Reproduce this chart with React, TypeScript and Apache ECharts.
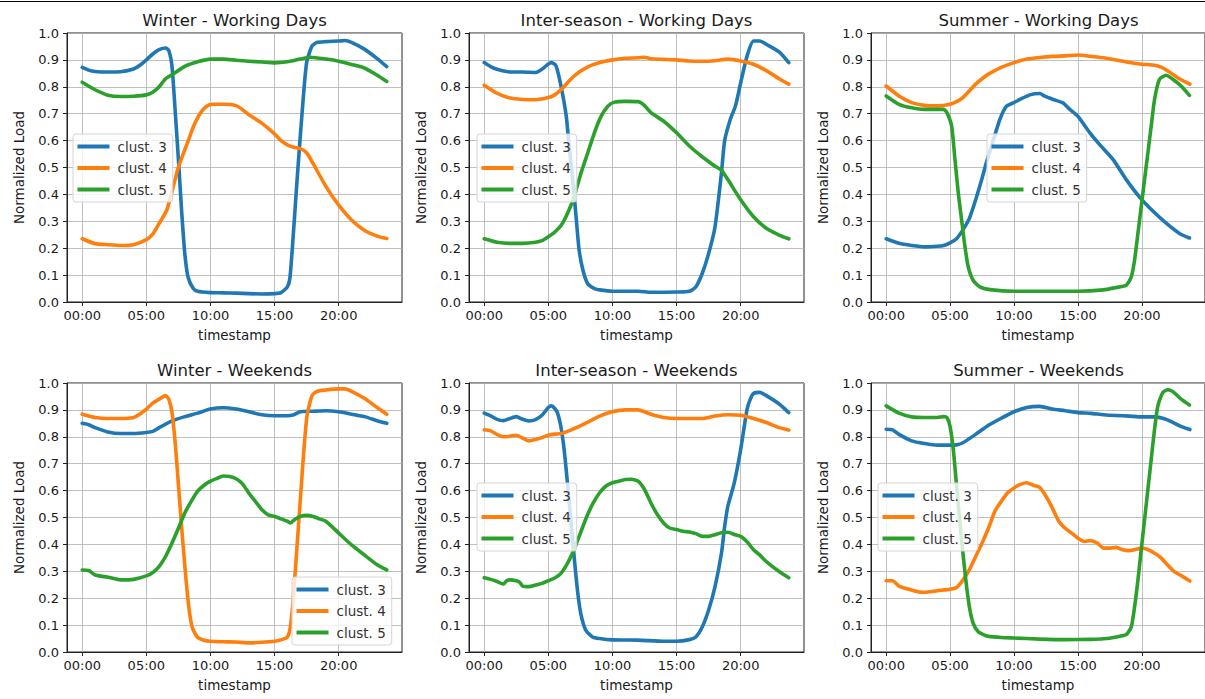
import React, { useEffect, useRef } from 'react';
import * as echarts from 'echarts';

type P = [number, number][];

// ---- Winter - Working Days ----
const winterWD_c3: P = [[0,0.872],[0.5,0.862],[1,0.857],[2,0.855],[3,0.856],[4,0.866],[4.5,0.88],[5,0.9],[5.5,0.922],[6,0.938],[6.5,0.944],[6.75,0.935],[7,0.876],[7.25,0.71],[7.5,0.53],[7.75,0.34],[8,0.18],[8.25,0.093],[8.66,0.05],[9,0.04],[10,0.035],[11,0.034],[12,0.033],[13,0.031],[14,0.03],[15,0.031],[15.5,0.035],[16,0.056],[16.2,0.09],[16.46,0.25],[16.72,0.43],[16.98,0.6],[17.24,0.76],[17.5,0.89],[17.9,0.95],[18.3,0.965],[19,0.968],[20,0.97],[20.5,0.972],[21,0.965],[22,0.94],[23,0.905],[23.75,0.875]];
const winterWD_c4: P = [[0,0.235],[1,0.217],[2,0.213],[3,0.21],[4,0.213],[5,0.232],[5.5,0.252],[6,0.292],[6.58,0.34],[7,0.41],[7.49,0.5],[8.27,0.6],[8.7,0.655],[9.18,0.7],[9.7,0.728],[10.2,0.735],[11,0.735],[12,0.73],[12.5,0.715],[13,0.696],[14,0.665],[15,0.625],[15.5,0.6],[16,0.584],[16.5,0.575],[17,0.57],[17.5,0.555],[18,0.515],[19,0.43],[20,0.36],[21,0.305],[22,0.267],[23,0.245],[23.75,0.236]];
const winterWD_c5: P = [[0,0.817],[1,0.789],[2,0.769],[3,0.764],[4,0.765],[5,0.77],[5.5,0.78],[6,0.8],[6.5,0.83],[7,0.845],[8,0.876],[9,0.893],[10,0.903],[11,0.903],[12,0.899],[13,0.895],[14,0.892],[15,0.889],[16,0.893],[17,0.903],[17.8,0.91],[19,0.903],[20,0.895],[21,0.883],[22,0.87],[23,0.843],[23.75,0.82]];

// ---- Inter-season - Working Days ----
const interWD_c3: P = [[0,0.89],[0.5,0.875],[1,0.865],[2,0.855],[3,0.855],[4,0.853],[4.5,0.865],[5,0.885],[5.25,0.89],[5.6,0.878],[6,0.8],[6.4,0.69],[6.6,0.59],[6.9,0.455],[7.16,0.318],[7.4,0.193],[7.7,0.118],[8.07,0.068],[8.6,0.05],[9,0.045],[10,0.04],[12,0.04],[13,0.036],[15,0.037],[16,0.04],[16.5,0.056],[17,0.106],[17.5,0.18],[18,0.28],[18.5,0.48],[18.75,0.6],[19.2,0.68],[19.6,0.73],[20,0.815],[20.5,0.915],[21,0.97],[21.5,0.97],[22,0.958],[23,0.93],[23.75,0.89]];
const interWD_c4: P = [[0,0.806],[1,0.776],[2,0.758],[3,0.753],[4,0.752],[5,0.76],[5.5,0.77],[6,0.79],[6.5,0.815],[7,0.84],[8,0.872],[9,0.89],[10,0.9],[11,0.906],[12,0.908],[12.5,0.91],[13,0.904],[14,0.902],[15,0.9],[16,0.896],[17,0.895],[18,0.897],[19,0.903],[20,0.896],[21,0.884],[22,0.86],[23,0.83],[23.75,0.81]];
const interWD_c5: P = [[0,0.235],[1,0.222],[2,0.218],[3,0.218],[4,0.222],[4.5,0.228],[5,0.243],[5.5,0.26],[6,0.285],[6.5,0.33],[7,0.39],[7.55,0.48],[8.07,0.554],[8.59,0.629],[9.11,0.69],[9.64,0.728],[10.16,0.743],[11,0.746],[12,0.745],[12.25,0.74],[12.5,0.73],[13,0.704],[14,0.672],[15,0.629],[16,0.58],[17,0.54],[18,0.505],[18.5,0.49],[19,0.455],[20,0.38],[21,0.317],[22,0.274],[23,0.249],[23.75,0.235]];

// ---- Summer - Working Days ----
const summerWD_c3: P = [[0,0.235],[1,0.218],[2,0.21],[3,0.205],[4,0.207],[4.5,0.21],[5,0.22],[5.5,0.235],[6,0.268],[6.5,0.31],[7,0.38],[7.5,0.46],[7.85,0.52],[8.37,0.6],[8.9,0.68],[9.41,0.728],[9.93,0.74],[10.46,0.753],[11.24,0.77],[12.02,0.775],[12.4,0.765],[13.06,0.753],[13.84,0.74],[14.36,0.716],[15,0.69],[15.92,0.63],[16.7,0.585],[17.74,0.53],[18.78,0.455],[19.82,0.39],[20.86,0.338],[21.9,0.293],[22.94,0.255],[23.72,0.238]];
const summerWD_c4: P = [[0,0.803],[1,0.766],[2,0.741],[3,0.731],[4,0.729],[5,0.735],[5.5,0.745],[6,0.76],[7,0.81],[7.5,0.83],[8,0.847],[9,0.872],[10,0.89],[11,0.903],[12,0.909],[13,0.913],[14,0.915],[15,0.918],[16,0.913],[17,0.908],[18,0.9],[19,0.89],[20,0.884],[21,0.88],[21.5,0.873],[22,0.86],[23,0.828],[23.75,0.81]];
const summerWD_c5: P = [[0,0.766],[1,0.735],[2,0.722],[3,0.716],[4,0.716],[4.5,0.716],[4.75,0.704],[5.12,0.654],[5.38,0.53],[5.64,0.405],[5.9,0.305],[6.16,0.206],[6.42,0.13],[6.81,0.08],[7.33,0.056],[8.11,0.046],[10,0.04],[12,0.04],[15,0.04],[17,0.045],[18,0.054],[18.78,0.062],[19.17,0.093],[19.43,0.156],[19.69,0.255],[19.95,0.355],[20.21,0.455],[20.47,0.554],[20.73,0.654],[20.99,0.753],[21.38,0.828],[21.9,0.843],[22.42,0.828],[23.07,0.803],[23.72,0.768]];

// ---- Winter - Weekends ----
const winterWE_c3: P = [[0,0.85],[0.5,0.845],[1,0.834],[2,0.818],[3,0.812],[4,0.812],[5,0.816],[5.5,0.82],[6,0.834],[7,0.859],[8,0.875],[9,0.888],[10,0.903],[11,0.908],[12,0.903],[13,0.893],[14,0.882],[15,0.878],[16,0.878],[16.5,0.882],[17,0.893],[18,0.895],[19,0.897],[20,0.893],[21,0.884],[22,0.875],[23,0.86],[23.75,0.85]];
const winterWE_c4: P = [[0,0.884],[1,0.872],[2,0.868],[3,0.868],[4,0.872],[4.5,0.885],[5,0.903],[5.5,0.925],[6,0.94],[6.5,0.953],[6.75,0.94],[7.01,0.888],[7.27,0.766],[7.53,0.604],[7.79,0.442],[8.05,0.293],[8.31,0.168],[8.57,0.093],[8.96,0.056],[9.48,0.044],[10,0.04],[11,0.038],[12,0.037],[13,0.034],[14,0.036],[15,0.04],[15.5,0.045],[16,0.056],[16.23,0.093],[16.49,0.218],[16.75,0.393],[17.01,0.567],[17.27,0.741],[17.53,0.878],[17.92,0.953],[18.31,0.969],[19,0.974],[20,0.978],[20.5,0.978],[21,0.969],[22,0.943],[23,0.909],[23.75,0.884]];
const winterWE_c5: P = [[0,0.305],[0.5,0.303],[1,0.286],[2,0.278],[3,0.268],[4,0.27],[5,0.283],[5.5,0.295],[6,0.318],[6.5,0.355],[7,0.405],[7.5,0.46],[8,0.517],[8.5,0.56],[9,0.598],[9.5,0.62],[10,0.635],[10.5,0.645],[11,0.654],[11.5,0.652],[12,0.644],[12.5,0.625],[13,0.59],[13.5,0.56],[14,0.53],[14.5,0.51],[15,0.504],[15.5,0.495],[16,0.486],[16.25,0.48],[16.5,0.49],[17,0.504],[17.5,0.508],[18,0.504],[18.5,0.495],[19,0.486],[20,0.442],[21,0.398],[22,0.361],[23,0.324],[23.75,0.305]];

// ---- Inter-season - Weekends ----
const interWE_c3: P = [[0,0.888],[0.5,0.878],[1,0.865],[1.5,0.86],[2,0.868],[2.5,0.875],[3,0.865],[3.5,0.859],[4,0.864],[4.5,0.88],[5,0.909],[5.25,0.915],[5.5,0.905],[5.71,0.89],[5.97,0.84],[6.23,0.753],[6.49,0.629],[6.75,0.492],[7.01,0.355],[7.27,0.23],[7.53,0.143],[7.92,0.081],[8.44,0.056],[9,0.05],[10,0.045],[12,0.044],[14,0.04],[15,0.04],[16,0.046],[16.5,0.056],[17,0.093],[17.5,0.156],[18,0.243],[18.5,0.367],[18.75,0.467],[19,0.542],[19.5,0.629],[20,0.753],[20.5,0.903],[20.75,0.94],[21,0.961],[21.5,0.965],[22,0.953],[23,0.922],[23.75,0.89]];
const interWE_c4: P = [[0,0.826],[0.5,0.822],[1,0.809],[1.5,0.8],[2,0.802],[2.5,0.806],[3,0.795],[3.5,0.785],[4,0.79],[4.5,0.797],[5,0.806],[5.5,0.81],[6,0.812],[6.5,0.82],[7,0.83],[8,0.853],[9,0.877],[10,0.893],[11,0.9],[12,0.9],[13,0.884],[14,0.872],[15,0.868],[16,0.868],[17,0.868],[18,0.877],[19,0.882],[20,0.88],[21,0.868],[22,0.853],[23,0.834],[23.75,0.825]];
const interWE_c5: P = [[0,0.276],[0.5,0.27],[1,0.262],[1.5,0.253],[1.75,0.265],[2,0.268],[2.5,0.265],[2.75,0.26],[3,0.245],[3.5,0.243],[4,0.249],[4.5,0.255],[5,0.265],[5.5,0.275],[6,0.293],[6.5,0.33],[7,0.38],[7.5,0.442],[8,0.504],[8.5,0.554],[9,0.592],[9.5,0.617],[10,0.629],[10.5,0.635],[11,0.641],[11.5,0.642],[12,0.635],[12.5,0.604],[13,0.554],[13.5,0.511],[14,0.479],[14.5,0.46],[15,0.455],[15.5,0.449],[16,0.446],[16.5,0.44],[17,0.43],[17.5,0.43],[18,0.436],[18.5,0.443],[19,0.445],[19.5,0.437],[20,0.43],[20.5,0.41],[21,0.38],[21.5,0.36],[22,0.336],[23,0.299],[23.75,0.276]];

// ---- Summer - Weekends ----
const summerWE_c3: P = [[0,0.828],[0.5,0.826],[1,0.809],[2,0.785],[3,0.775],[4,0.769],[5,0.769],[5.5,0.77],[6,0.778],[7,0.809],[8,0.843],[9,0.869],[10,0.893],[11,0.909],[12,0.913],[13,0.903],[14,0.897],[15,0.89],[16,0.887],[17,0.882],[18,0.879],[19,0.877],[20,0.874],[21,0.874],[22,0.863],[23,0.84],[23.75,0.827]];
const summerWE_c4: P = [[0,0.265],[0.5,0.265],[1,0.245],[2,0.23],[2.75,0.222],[3,0.222],[4,0.228],[5,0.233],[5.5,0.24],[6,0.267],[6.5,0.305],[7,0.355],[7.5,0.405],[8,0.46],[8.5,0.523],[9,0.56],[9.5,0.592],[10,0.61],[10.5,0.623],[11,0.629],[11.5,0.62],[12,0.612],[12.5,0.579],[13,0.535],[13.5,0.486],[14,0.46],[14.5,0.442],[15,0.423],[15.5,0.411],[16,0.414],[16.5,0.405],[17,0.386],[17.5,0.386],[18,0.389],[18.5,0.38],[19,0.377],[19.5,0.381],[20,0.386],[20.5,0.38],[21,0.367],[21.5,0.35],[22,0.324],[22.5,0.3],[23,0.286],[23.75,0.264]];
const summerWE_c5: P = [[0,0.915],[1,0.888],[2,0.874],[3,0.872],[4,0.872],[4.5,0.875],[4.75,0.872],[4.99,0.84],[5.25,0.753],[5.51,0.616],[5.77,0.479],[6.03,0.355],[6.29,0.243],[6.55,0.156],[6.81,0.106],[7.2,0.075],[7.72,0.062],[8,0.058],[9,0.054],[10,0.052],[12,0.048],[14,0.046],[16,0.047],[17,0.049],[18,0.056],[18.78,0.065],[19.17,0.093],[19.43,0.168],[19.69,0.267],[19.95,0.38],[20.21,0.492],[20.47,0.604],[20.73,0.716],[20.99,0.828],[21.25,0.915],[21.64,0.965],[22.03,0.975],[22.42,0.968],[23.07,0.94],[23.72,0.918]];

const TITLES = [
  'Winter - Working Days', 'Inter-season - Working Days', 'Summer - Working Days',
  'Winter - Weekends', 'Inter-season - Weekends', 'Summer - Weekends',
];
const PANEL_DATA: P[][] = [
  [winterWD_c3, winterWD_c4, winterWD_c5],
  [interWD_c3, interWD_c4, interWD_c5],
  [summerWD_c3, summerWD_c4, summerWD_c5],
  [winterWE_c3, winterWE_c4, winterWE_c5],
  [interWE_c3, interWE_c4, interWE_c5],
  [summerWE_c3, summerWE_c4, summerWE_c5],
];
const SERIES_NAMES = ['clust. 3', 'clust. 4', 'clust. 5'];
const COLORS = ['#1f77b4', '#ff7f0e', '#2ca02c'];
const X_TICKS = [0, 5, 10, 15, 20];
const X_MIN = -1.1875;
const X_MAX = 24.9375;

const GRID_LEFTS = [67, 469, 871];
const GRID_TOPS = [33, 383];
const GRID_W = 335;
const GRID_H = 269;
const TITLE_Y = [20, 370];
const LEGEND_POS: [number, number][] = [[73, 134], [477, 134], [987, 134], [292, 577], [477, 483], [878, 483]];

const FONT = 'DejaVu Sans';
const TXT = '#1a1a1a';

export default function App() {
  const ref = useRef<HTMLDivElement>(null);
  useEffect(() => {
    document.body.style.margin = '0';
    document.body.style.overflow = 'hidden';
    if (!ref.current) return;
    const chart = echarts.init(ref.current, undefined, { renderer: 'svg' });
    const grids: any[] = [];
    const xAxes: any[] = [];
    const yAxes: any[] = [];
    const series: any[] = [];
    const legends: any[] = [];
    const graphics: any[] = [];
    for (let i = 0; i < 6; i++) {
      const left = GRID_LEFTS[i % 3];
      const top = GRID_TOPS[Math.floor(i / 3)];
      grids.push({ left, top, width: GRID_W, height: GRID_H, show: true, borderColor: '#222', borderWidth: 1, backgroundColor: 'transparent', containLabel: false });
      xAxes.push({
        type: 'value', gridIndex: i, min: X_MIN, max: X_MAX,
        axisLine: { show: true, onZero: false, lineStyle: { color: '#222', width: 1 } },
        axisTick: { show: true, customValues: X_TICKS, length: 4, lineStyle: { color: '#222', width: 1 } },
        axisLabel: {
          customValues: X_TICKS, margin: 7, fontFamily: FONT, fontSize: 13, color: TXT,
          formatter: (v: number) => String(Math.round(v)).padStart(2, '0') + ':00',
        },
        splitLine: { show: true, lineStyle: { color: '#b0b0b0', width: 0.8 } },
        name: 'timestamp', nameLocation: 'middle', nameGap: 26,
        nameTextStyle: { fontFamily: FONT, fontSize: 13.5, color: TXT },
      });
      yAxes.push({
        type: 'value', gridIndex: i, min: 0, max: 1, interval: 0.1,
        axisLine: { show: true, onZero: false, lineStyle: { color: '#222', width: 1 } },
        axisTick: { show: true, length: 4, lineStyle: { color: '#222', width: 1 } },
        axisLabel: { margin: 8, fontFamily: FONT, fontSize: 13, color: TXT, formatter: (v: number) => v.toFixed(1) },
        splitLine: { show: true, lineStyle: { color: '#b0b0b0', width: 0.8 } },
        name: 'Normalized Load', nameLocation: 'middle', nameGap: 41, nameRotate: 90,
        nameTextStyle: { fontFamily: FONT, fontSize: 13.5, color: TXT },
      });
      PANEL_DATA[i].forEach((d, k) => {
        series.push({
          type: 'line', name: SERIES_NAMES[k], xAxisIndex: i, yAxisIndex: i, data: d,
          showSymbol: false, symbol: 'none', smooth: 0.2, silent: true,
          color: COLORS[k],
          lineStyle: { width: 3.6, color: COLORS[k], cap: 'round', join: 'round' },
          itemStyle: { color: COLORS[k] },
          emphasis: { disabled: true },
        });
      });
      legends.push({
        show: true, data: SERIES_NAMES, orient: 'vertical',
        left: LEGEND_POS[i][0], top: LEGEND_POS[i][1],
        icon: 'rect', itemWidth: 32, itemHeight: 4, itemGap: 7.5,
        padding: [5.5, 6, 5.5, 4.5],
        backgroundColor: 'rgba(255,255,255,0.8)', borderColor: '#d5d5d5', borderWidth: 1, borderRadius: 3,
        selectedMode: false,
        textStyle: { fontFamily: FONT, fontSize: 13.5, color: '#333', lineHeight: 14, padding: [0, 0, 0, 3] },
      });
      graphics.push({
        type: 'text', x: left + GRID_W / 2, y: TITLE_Y[Math.floor(i / 3)],
        style: { text: TITLES[i], font: `16.5px "${FONT}"`, fill: TXT, textAlign: 'center', textVerticalAlign: 'middle' },
      });
    }
    graphics.push({ type: 'line', shape: { x1: 0, y1: 1.5, x2: 1205, y2: 1.5 }, style: { stroke: '#000', lineWidth: 1 } });
    chart.setOption({
      animation: false,
      grid: grids, xAxis: xAxes, yAxis: yAxes, series, legend: legends, graphic: graphics,
      tooltip: { show: false },
    });
    return () => chart.dispose();
  }, []);
  return <div ref={ref} style={{ width: 1205, height: 699 }} />;
}
